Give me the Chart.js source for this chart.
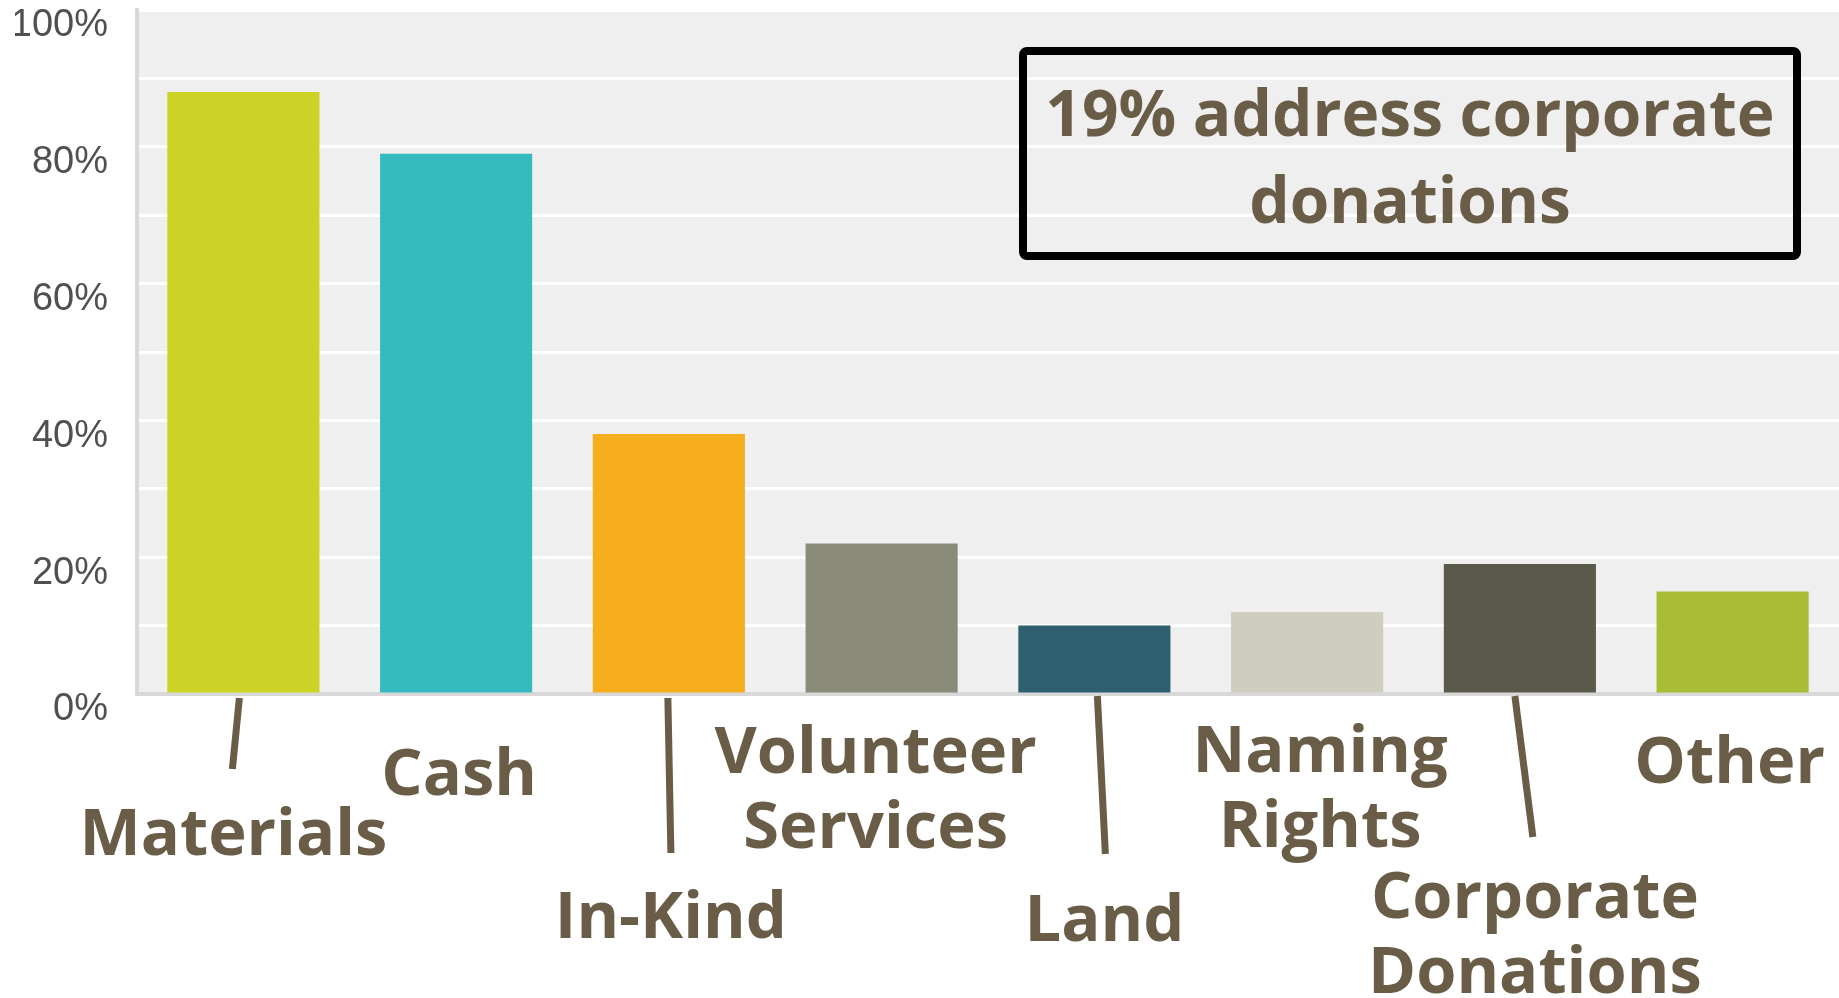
<!DOCTYPE html>
<html>
<head>
<meta charset="utf-8">
<title>Types of donations</title>
<script src="https://cdn.jsdelivr.net/npm/chart.js@4/dist/chart.umd.min.js"></script>
<style>
  html, body { margin: 0; padding: 0; background: #fff; }
  #wrap { width: 1839px; height: 998px; position: relative; }
</style>
</head>
<body>
<div id="wrap"><canvas id="donationChart"></canvas></div>
<script>
const categories = ["Materials", "Cash", "In-Kind", "Volunteer Services", "Land", "Naming Rights", "Corporate Donations", "Other"];
const shares = [88, 79, 38, 22, 10, 12, 19, 15];
const barColors = ["#cdd326", "#33bbbf", "#f6ae1f", "#898a78", "#2d5f6e", "#cfcdbf", "#5b594a", "#a8bc36"];
const yTickLabels = [0, 20, 40, 60, 80, 100];
const calloutLines = ["19% address corporate", "donations"];

const brown = "#6a5d47";

// where each category label sits under its bar (offsets from bar centre / plot bottom)
const labelLayout = [
  { dx: -10, y: 161, line: [-4, 4, -11, 75] },
  { dx: 3, y: 101 },
  { dx: 2, y: 244, line: [-1, 4, 2, 159] },
  { dx: -6, y: 79 },
  { dx: 10, y: 247, line: [3, 2, 11, 160] },
  { dx: 13, y: 78 },
  { dx: 15, y: 224, line: [-5, 2, 13, 143] },
  { dx: -3, y: 89 },
];

const annotate = {
  id: "annotate",
  beforeDraw(chart) {
    const { ctx, chartArea } = chart;
    ctx.save();
    ctx.fillStyle = "#efefef";
    ctx.fillRect(chartArea.left, chartArea.top, chartArea.right - chartArea.left, chartArea.bottom - chartArea.top);
    ctx.restore();
  },
  afterDraw(chart) {
    const { ctx, chartArea } = chart;
    const x = chart.scales.x;
    ctx.save();
    ctx.fillStyle = brown;
    ctx.strokeStyle = brown;
    ctx.textAlign = "center";
    ctx.textBaseline = "alphabetic";
    ctx.font = 'bold 65px "Open Sans"';
    ctx.lineCap = "butt";

    categories.forEach(function (name, i) {
      let cx = x.getPixelForValue(i);
      let pos = labelLayout[i];
      if (pos.line) {
        ctx.lineWidth = 7;
        ctx.beginPath();
        ctx.moveTo(cx + pos.line[0], chartArea.bottom + pos.line[1]);
        ctx.lineTo(cx + pos.line[2], chartArea.bottom + pos.line[3]);
        ctx.stroke();
      }
      name.split(" ").forEach(function (word, j) {
        ctx.fillText(word, cx + pos.dx, chartArea.bottom + pos.y + j * 75);
      });
    });

    // callout box
    let left = chartArea.right - 816;
    let top = chartArea.top + 41;
    ctx.strokeStyle = "#000";
    ctx.lineWidth = 8;
    ctx.beginPath();
    ctx.roundRect(left, top, 774, 205, 4);
    ctx.stroke();

    ctx.font = 'bold 64px "Open Sans"';
    ctx.fillStyle = brown;
    calloutLines.forEach(function (txt, j) {
      ctx.fillText(txt, left + 387, chartArea.top + 126 + j * 87);
    });
    ctx.restore();
  },
};

function drawChart() {
  let ctx = document.getElementById("donationChart").getContext("2d");
  new Chart(ctx, {
    type: "bar",
    data: {
      labels: categories,
      datasets: [
        {
          data: shares,
          backgroundColor: barColors,
          borderWidth: 0,
          categoryPercentage: 1,
          barPercentage: 0.715,
        },
      ],
    },
    options: {
      responsive: true,
      maintainAspectRatio: false,
      animation: false,
      layout: {
        autoPadding: false,
        padding: { top: 10, right: 0, bottom: 304, left: 15 },
      },
      plugins: {
        legend: { display: false },
        tooltip: { enabled: false },
      },
      scales: {
        x: {
          grid: { display: false, drawTicks: false },
          border: { display: true, color: "#d8d8d8", width: 4 },
          ticks: { display: false },
        },
        y: {
          min: 0,
          max: 100,
          grid: { color: "#ffffff", lineWidth: 3, drawTicks: false },
          border: { display: true, color: "#d8d8d8", width: 4 },
          ticks: {
            stepSize: 10,
            padding: 29,
            labelOffset: 16,
            color: "#505050",
            font: { family: "'Liberation Sans', Arial, sans-serif", size: 38 },
            callback: function (value) {
              return yTickLabels.includes(value) ? value + "%" : "";
            },
          },
          afterFit: function (scale) {
            scale.width = 122;
            scale.paddingTop = 0;
            scale.paddingBottom = 0;
          },
        },
      },
    },
    plugins: [annotate],
  });
}

document.fonts.load('bold 65px "Open Sans"').then(drawChart, drawChart);
</script>
</body>
</html>
